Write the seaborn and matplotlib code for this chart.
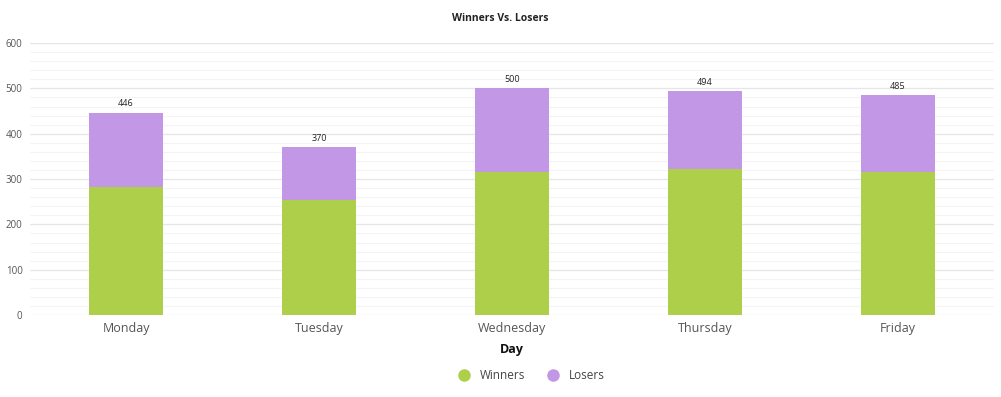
import pandas as pd
import matplotlib
matplotlib.use("Agg")
import matplotlib.pyplot as plt
import seaborn as sns
from matplotlib.lines import Line2D
from matplotlib.ticker import MultipleLocator

days = ["Monday", "Tuesday", "Wednesday", "Thursday", "Friday"]
winners = [282, 254, 316, 322, 316]
losers = [164, 116, 184, 172, 169]
totals = [w + l for w, l in zip(winners, losers)]

green = "#aecf4a"
purple = "#c197e6"

df = pd.DataFrame({"Day": days, "Winners": winners, "Losers": losers, "Total": totals})

sns.set_theme(style="white")
plt.rcParams["font.family"] = ["Open Sans", "DejaVu Sans"]

fig = plt.figure(figsize=(10.01, 3.97), dpi=100)
ax = fig.add_axes([0.0295, 0.2065, 0.964, 0.685])

# stacked: total in purple first, winners on top of it
sns.barplot(data=df, x="Day", y="Total", color=purple, width=0.385, ax=ax,
            saturation=1, linewidth=0, zorder=3)
sns.barplot(data=df, x="Day", y="Winners", color=green, width=0.385, ax=ax,
            saturation=1, linewidth=0, zorder=4)

for i, t in enumerate(totals):
    ax.text(i, t + 10, str(t), ha="center", va="bottom", fontsize=6.5, color="#222222")

ax.set_ylim(0, 600)
ax.set_xlim(-0.5, 4.5)
ax.yaxis.set_major_locator(MultipleLocator(100))
ax.yaxis.set_minor_locator(MultipleLocator(20))
ax.grid(axis="y", which="major", color="#e6e6e6", linewidth=0.9, zorder=0)
ax.grid(axis="y", which="minor", color="#f4f4f4", linewidth=0.8, zorder=0)
ax.set_axisbelow(True)
for s in ax.spines.values():
    s.set_visible(False)

ax.tick_params(axis="y", labelsize=7, colors="#555555", length=0, pad=5)
ax.tick_params(axis="x", labelsize=9, colors="#555555", length=0, pad=5)
ax.set_ylabel("")
ax.set_xlabel("Day", fontsize=9, fontweight="bold", color="#111111", labelpad=6)

fig.text(0.5, 0.953, "Winners Vs. Losers", ha="center", va="center",
         fontsize=7.5, fontweight="bold", color="#222222")

handles = [Line2D([], [], marker="o", linestyle="", markersize=8, color=green, label="Winners"),
           Line2D([], [], marker="o", linestyle="", markersize=8, color=purple, label="Losers")]
fig.legend(handles=handles, loc="center", bbox_to_anchor=(0.528, 0.055), ncol=2,
           frameon=False, fontsize=8.5, handletextpad=0.3, columnspacing=1.4,
           labelcolor="#444444")

fig.savefig("out.png", dpi=100, facecolor="white")
